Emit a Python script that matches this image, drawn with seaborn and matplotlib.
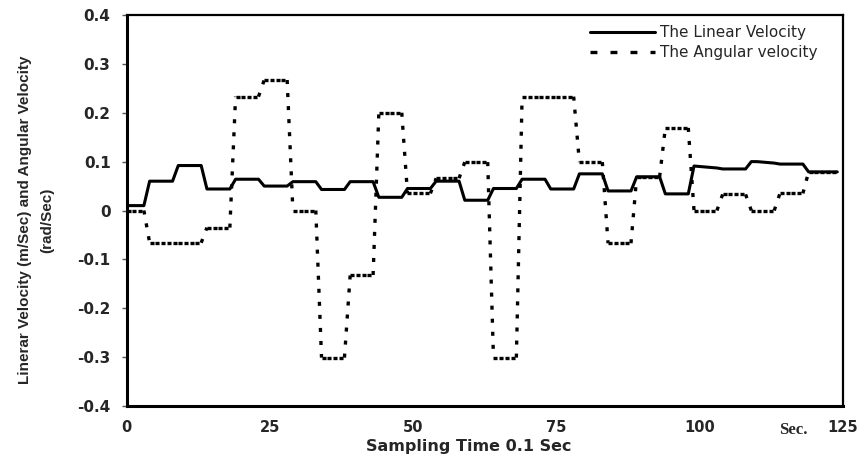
import numpy as np
import pandas as pd
import matplotlib
matplotlib.use("Agg")
import matplotlib.pyplot as plt
import seaborn as sns
from matplotlib.lines import Line2D

# ---------------------------------------------------------------- data
time_steps = list(range(125))

linear_velocity = [
    0.010, 0.010, 0.010, 0.010,
    0.060, 0.060, 0.060, 0.060, 0.060,
    0.092, 0.092, 0.092, 0.092, 0.092,
    0.044, 0.044, 0.044, 0.044, 0.044,
    0.064, 0.064, 0.064, 0.064, 0.064,
    0.050, 0.050, 0.050, 0.050, 0.050,
    0.059, 0.059, 0.059, 0.059, 0.059,
    0.043, 0.043, 0.043, 0.043, 0.043,
    0.059, 0.059, 0.059, 0.059, 0.059,
    0.027, 0.027, 0.027, 0.027, 0.027,
    0.045, 0.045, 0.045, 0.045, 0.045,
    0.060, 0.060, 0.060, 0.060, 0.060,
    0.021, 0.021, 0.021, 0.021, 0.021,
    0.045, 0.045, 0.045, 0.045, 0.045,
    0.064, 0.064, 0.064, 0.064, 0.064,
    0.044, 0.044, 0.044, 0.044, 0.044,
    0.075, 0.075, 0.075, 0.075, 0.075,
    0.040, 0.040, 0.040, 0.040, 0.040,
    0.069, 0.069, 0.069, 0.069, 0.069,
    0.034, 0.034, 0.034, 0.034, 0.034,
    0.091, 0.090, 0.089, 0.088, 0.087,
    0.085, 0.085, 0.085, 0.085, 0.085,
    0.100, 0.100, 0.099, 0.098, 0.097,
    0.095, 0.095, 0.095, 0.095, 0.095,
    0.079, 0.079, 0.079, 0.079, 0.079, 0.079,
]

angular_velocity = [
    0.000, 0.000, 0.000, 0.000,
    -0.066, -0.066, -0.066, -0.066, -0.066,
    -0.066, -0.066, -0.066, -0.066, -0.066,
    -0.035, -0.035, -0.035, -0.035, -0.035,
    0.233, 0.233, 0.233, 0.233, 0.233,
    0.267, 0.267, 0.267, 0.267, 0.267,
    0.000, 0.000, 0.000, 0.000, 0.000,
    -0.301, -0.301, -0.301, -0.301, -0.301,
    -0.132, -0.132, -0.132, -0.132, -0.132,
    0.200, 0.200, 0.200, 0.200, 0.200,
    0.035, 0.035, 0.035, 0.035, 0.035,
    0.066, 0.066, 0.066, 0.066, 0.066,
    0.099, 0.099, 0.099, 0.099, 0.099,
    -0.301, -0.301, -0.301, -0.301, -0.301,
    0.233, 0.233, 0.233, 0.233, 0.233,
    0.233, 0.233, 0.233, 0.233, 0.233,
    0.099, 0.099, 0.099, 0.099, 0.099,
    -0.067, -0.067, -0.067, -0.067, -0.067,
    0.069, 0.069, 0.069, 0.069, 0.069,
    0.169, 0.169, 0.169, 0.169, 0.169,
    0.000, 0.000, 0.000, 0.000, 0.000,
    0.033, 0.033, 0.033, 0.033, 0.033,
    0.000, 0.000, 0.000, 0.000, 0.000,
    0.035, 0.035, 0.035, 0.035, 0.035,
    0.079, 0.079, 0.079, 0.079, 0.079, 0.079,
]

x_ticks = [0, 25, 50, 75, 100, 125]
y_ticks = [-0.4, -0.3, -0.2, -0.1, 0.0, 0.1, 0.2, 0.3, 0.4]
y_tick_labels = ["-0.4", "-0.3", "-0.2", "-0.1", "0", "0.1", "0.2", "0.3", "0.4"]
series_labels = ["The Linear Velocity", "The Angular velocity"]

# ---------------------------------------------------------------- style
sns.set_style("white")
plt.rcParams["font.family"] = ["DejaVu Sans"]
plt.rcParams["lines.scale_dashes"] = False

W, H = 864, 455
fig = plt.figure(figsize=(W / 100, H / 100), dpi=100)
ax = fig.add_axes([126.7 / W, 1 - 406 / H, (843 - 126.7) / W, (406 - 15) / H])

# linear velocity: continuous solid line
lin_df = pd.DataFrame({"t": time_steps, "v": linear_velocity})
sns.lineplot(data=lin_df, x="t", y="v", color="black", linewidth=2.2,
             legend=False, ax=ax)

# angular velocity: each sample-to-sample segment drawn on its own so the
# square-dot pattern restarts at every point
seg_t, seg_v, seg_id = [], [], []
for i in range(len(time_steps) - 1):
    seg_t += [time_steps[i], time_steps[i + 1]]
    seg_v += [angular_velocity[i], angular_velocity[i + 1]]
    seg_id += [i, i]
ang_df = pd.DataFrame({"t": seg_t, "v": seg_v, "seg": seg_id})
sns.lineplot(data=ang_df, x="t", y="v", units="seg", estimator=None,
             color="black", linewidth=2.4, linestyle=(0, (2.9, 6.5)),
             solid_capstyle="butt", dash_capstyle="butt",
             legend=False, sort=False, ax=ax)

# ---------------------------------------------------------------- axes
ax.set_xlim(0, 125)
ax.set_ylim(-0.4, 0.4)
ax.set_xticks(x_ticks)
ax.set_xticklabels([str(v) for v in x_ticks])
ax.set_yticks(y_ticks)
ax.set_yticklabels(y_tick_labels)
ax.set_xlabel("")
ax.set_ylabel("")
ax.tick_params(axis="x", length=0, pad=10, labelsize=10.5)
ax.tick_params(axis="y", length=3.6, width=1, color="#555555", direction="out",
               pad=8, labelsize=11, left=True)
for lab in ax.get_xticklabels() + ax.get_yticklabels():
    lab.set_fontweight("bold")

for side in ["left", "bottom"]:
    ax.spines[side].set_linewidth(2.2)
for side in ["top", "right"]:
    ax.spines[side].set_linewidth(1.6)
for sp in ax.spines.values():
    sp.set_color("black")
    sp.set_visible(True)

# axis titles
fig.text(469 / W, 1 - 451 / H, "Sampling Time 0.1 Sec", ha="center",
         va="baseline", fontsize=11.5, fontweight="bold")
fig.text(793 / W, 1 - 430 / H, "Sec.", ha="center", va="center",
         fontsize=12, fontweight="bold", family="Liberation Serif")
fig.text(25 / W, 1 - 220 / H, "Linerar Velocity (m/Sec) and Angular Velocity",
         rotation=90, ha="center", va="center", fontsize=11,
         fontweight="bold", family="Liberation Sans")
fig.text(47 / W, 1 - 220 / H, "(rad/Sec)", rotation=90, ha="center",
         va="center", fontsize=11, fontweight="bold", family="Liberation Sans")

# legend
handles = [
    Line2D([], [], color="black", linewidth=2.2),
    Line2D([], [], color="black", linewidth=2.4, linestyle=(0, (5, 9.4)),
           dash_capstyle="butt"),
]
ax.legend(handles, series_labels, loc="upper left",
          bbox_to_anchor=(590 / W, 1 - 25 / H), bbox_transform=fig.transFigure,
          frameon=False, borderpad=0, borderaxespad=0, handlelength=4.25,
          handletextpad=0.33, labelspacing=0.35, fontsize=11)

fig.savefig("out.png", dpi=100)
